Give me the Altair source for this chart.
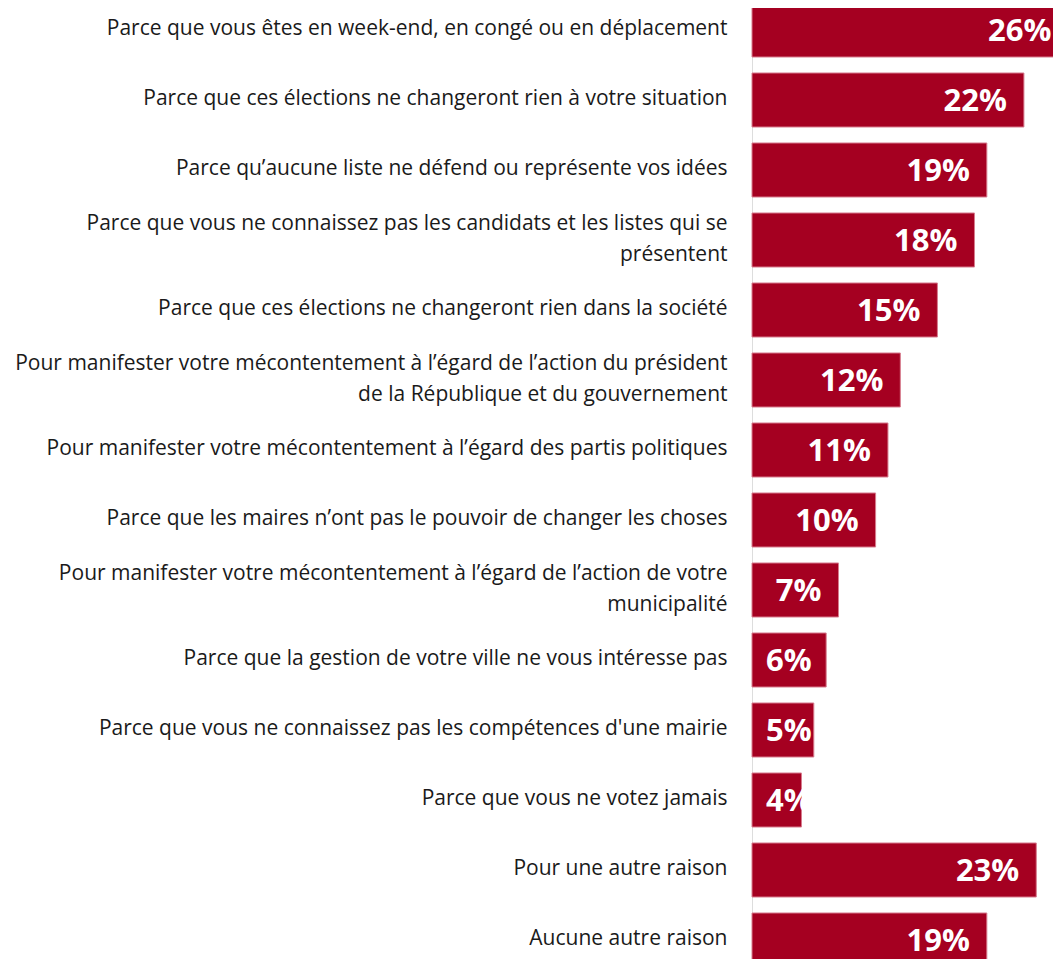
import altair as alt
import pandas as pd

reasons = [
    "Parce que vous êtes en week-end, en congé ou en déplacement",
    "Parce que ces élections ne changeront rien à votre situation",
    "Parce qu’aucune liste ne défend ou représente vos idées",
    "Parce que vous ne connaissez pas les candidats et les listes qui se|présentent",
    "Parce que ces élections ne changeront rien dans la société",
    "Pour manifester votre mécontentement à l’égard de l’action du président|de la République et du gouvernement",
    "Pour manifester votre mécontentement à l’égard des partis politiques",
    "Parce que les maires n’ont pas le pouvoir de changer les choses",
    "Pour manifester votre mécontentement à l’égard de l’action de votre|municipalité",
    "Parce que la gestion de votre ville ne vous intéresse pas",
    "Parce que vous ne connaissez pas les compétences d'une mairie",
    "Parce que vous ne votez jamais",
    "Pour une autre raison",
    "Aucune autre raison",
]
values = [26, 22, 19, 18, 15, 12, 11, 10, 7, 6, 5, 4, 23, 19]

df = pd.DataFrame({"reason": reasons, "v": values})
df["lbl"] = [f"{v}%" for v in values]

RED = "#A50021"

y_axis = alt.Axis(
    title=None,
    domain=False,
    ticks=False,
    grid=False,
    labelPadding=25,
    labelLimit=900,
    labelFont="Open Sans",
    labelFontSize=21,
    labelColor="#1a1a1a",
    labelLineHeight=31,
    labelExpr="split(datum.label, '|')",
    labelOffset={
        "condition": {"test": "indexof(datum.value, '|') >= 0", "value": -16.5},
        "value": -1,
    },
)

y_scale = alt.Scale(paddingInner=0.22857, paddingOuter=0)
x_scale = alt.Scale(domain=[0, 25], nice=False)

bars = alt.Chart(df).mark_bar(
    color=RED, stroke="#d77c8e", strokeWidth=1
).encode(
    y=alt.Y("reason:N", sort=None, scale=y_scale, axis=y_axis),
    x=alt.X("v:Q", scale=x_scale, axis=None),
)

texts = alt.Chart(df).transform_calculate(
    pos="clamp(datum.v, 6.2, 25.6)"
).mark_text(
    align="right",
    baseline="middle",
    dx=-17,
    dy=2,
    color="white",
    font="Open Sans",
    fontWeight="bold",
    fontSize=31,
).encode(
    y=alt.Y("reason:N", sort=None, scale=y_scale, axis=y_axis),
    x=alt.X("pos:Q", scale=x_scale, axis=None),
    text="lbl:N",
)

chart = (
    alt.layer(bars, texts)
    .properties(
        width=309,
        height=964,
        autosize=alt.AutoSizeParams(type="none"),
        padding={"left": 744, "top": -5, "right": -8, "bottom": -8},
    )
    .configure_view(stroke=None)
    .configure(background="white")
)

chart.save("out.html", embed_options={"renderer": "svg", "actions": False})
